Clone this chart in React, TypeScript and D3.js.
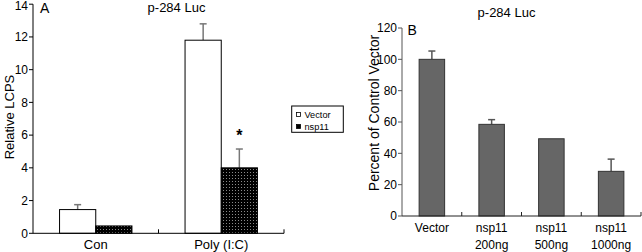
import React from "react";
import * as d3 from "d3";

const catsA = ["Con", "Poly (I:C)"];
const seriesA = ["Vector", "nsp11"];
const vectorVals = [1.45, 11.8];
const vectorErr = [0.3, 1.0];
const nspVals = [0.45, 4.0];
const nspErr = [0, 1.15];
const ticksA = [0, 2, 4, 6, 8, 10, 12, 14];

const catsB = [["Vector"], ["nsp11", "200ng"], ["nsp11", "500ng"], ["nsp11", "1000ng"]];
const valsB = [100, 58.5, 49.3, 28.5];
const errB = [5.3, 3, 0, 7.8];
const ticksB = [0, 20, 40, 60, 80, 100, 120];

const FONT = "Arial, 'Liberation Sans', Helvetica, sans-serif";

export default function App() {
  // Panel A
  const yA = d3.scaleLinear().domain([0, 14]).range([233.3, 4.2]);
  const xA = d3.scaleBand().domain(catsA).range([33, 284]).paddingInner(0).paddingOuter(0);
  const barW = 36.2;
  // Panel B
  const yB = d3.scaleLinear().domain([0, 120]).range([216, 28]);
  const xB = d3.scaleBand().domain(catsB.map((c) => c.join(" "))).range([402, 641]);
  const barWB = 25.5;

  const bw = xA.bandwidth();
  return (
    <svg width={642} height={252} style={{ position: "absolute", left: 0, top: 0, background: "#fff" }} fontFamily={FONT}>
      <defs>
        <pattern id="dots" width={3} height={3} patternUnits="userSpaceOnUse">
          <rect width={3} height={3} fill="#000" />
          <rect x={1} y={1} width={1} height={1} fill="#8a8a8a" />
        </pattern>
      </defs>
      <rect width={642} height={252} fill="#fff" />
      {/* Panel A */}
      <g>
        {catsA.map((c, i) => {
          const cx = (xA(c) as number) + bw / 2;
          const vy = yA(vectorVals[i]);
          const ny = yA(nspVals[i]);
          return (
            <g key={c}>
              {vectorErr[i] > 0 && (
                <g stroke="#777" strokeWidth={1.5}>
                  <line x1={cx - barW / 2} x2={cx - barW / 2} y1={vy} y2={yA(vectorVals[i] + vectorErr[i])} />
                  <line x1={cx - barW / 2 - 3.5} x2={cx - barW / 2 + 3.5} y1={yA(vectorVals[i] + vectorErr[i])} y2={yA(vectorVals[i] + vectorErr[i])} />
                </g>
              )}
              {nspErr[i] > 0 && (
                <g stroke="#777" strokeWidth={1.5}>
                  <line x1={cx + barW / 2} x2={cx + barW / 2} y1={ny} y2={yA(nspVals[i] + nspErr[i])} />
                  <line x1={cx + barW / 2 - 3.5} x2={cx + barW / 2 + 3.5} y1={yA(nspVals[i] + nspErr[i])} y2={yA(nspVals[i] + nspErr[i])} />
                </g>
              )}
              <rect x={cx - barW} y={vy} width={barW} height={yA(0) - vy} fill="#fff" stroke="#000" strokeWidth={1} />
              <rect x={cx} y={ny} width={barW} height={yA(0) - ny} fill="url(#dots)" stroke="#000" strokeWidth={1} />
              <text x={cx} y={249} fontSize={13} textAnchor="middle" fill="#000">{c}</text>
            </g>
          );
        })}
        <text x={xA("Poly (I:C)")! + bw / 2 + barW / 2} y={yA(nspVals[1] + nspErr[1]) - 8} fontSize={16} fontWeight="bold" textAnchor="middle">*</text>
        <line x1={33} x2={33} y1={yA(14)} y2={yA(0)} stroke="#000" />
        <line x1={33} x2={284} y1={yA(0)} y2={yA(0)} stroke="#000" />
        {catsA.map((c) => (
          <line key={c} x1={(xA(c) as number) + bw} x2={(xA(c) as number) + bw} y1={yA(0)} y2={yA(0) - 4} stroke="#000" />
        ))}
        {ticksA.map((t) => (
          <g key={t}>
            <line x1={29} x2={33} y1={yA(t)} y2={yA(t)} stroke="#000" />
            <text x={28} y={Math.max(yA(t) + 4.3, 9.5)} fontSize={12} textAnchor="end">{t}</text>
          </g>
        ))}
        <text transform={`translate(13.5,117) rotate(-90)`} fontSize={13} textAnchor="middle">Relative LCPS</text>
        <text x={40} y={13} fontSize={14}>A</text>
        <text x={176.5} y={12} fontSize={13} textAnchor="middle">p-284 Luc</text>
        {/* legend */}
        <rect x={291.7} y={106} width={51.6} height={26.3} fill="#fff" stroke="#000" strokeWidth={1} />
        {seriesA.map((s, i) => (
          <g key={s}>
            <rect x={296.5} y={112.5 + i * 12} width={4} height={4} fill={i === 0 ? "#fff" : "#000"} stroke="#000" strokeWidth={0.8} />
            <text x={304.5} y={117.5 + i * 12} fontSize={9.2}>{s}</text>
          </g>
        ))}
      </g>
      {/* Panel B */}
      <g>
        {catsB.map((c, i) => {
          const key = c.join(" ");
          const cx = (xB(key) as number) + xB.bandwidth() / 2;
          const vy = yB(valsB[i]);
          return (
            <g key={key}>
              {errB[i] > 0 && (
                <g stroke="#555" strokeWidth={1.5}>
                  <line x1={cx} x2={cx} y1={vy} y2={yB(valsB[i] + errB[i])} />
                  <line x1={cx - 3.5} x2={cx + 3.5} y1={yB(valsB[i] + errB[i])} y2={yB(valsB[i] + errB[i])} />
                </g>
              )}
              <rect x={cx - barWB / 2} y={vy} width={barWB} height={yB(0) - vy} fill="#666" stroke="#333" strokeWidth={1} />
              {c.map((l, j) => (
                <text key={j} x={cx} y={232 + j * 16.5} fontSize={12} textAnchor="middle">{l}</text>
              ))}
            </g>
          );
        })}
        <line x1={402} x2={402} y1={yB(120)} y2={yB(0)} stroke="#555" />
        <line x1={402} x2={641} y1={yB(0)} y2={yB(0)} stroke="#222" />
        {catsB.map((c) => {
          const k = c.join(" ");
          const x = (xB(k) as number) + xB.bandwidth();
          return <line key={k} x1={x} x2={x} y1={yB(0)} y2={yB(0) - 4} stroke="#222" />;
        })}
        {ticksB.map((t) => (
          <g key={t}>
            <line x1={398} x2={402} y1={yB(t)} y2={yB(t)} stroke="#555" />
            <text x={397} y={yB(t) + 4.3} fontSize={12} textAnchor="end">{t}</text>
          </g>
        ))}
        <text transform={`translate(379,113) rotate(-90)`} fontSize={14} textAnchor="middle">Percent of Control Vector</text>
        <text x={407.5} y={35} fontSize={14}>B</text>
        <text x={506.5} y={17} fontSize={13} textAnchor="middle">p-284 Luc</text>
      </g>
    </svg>
  );
}
